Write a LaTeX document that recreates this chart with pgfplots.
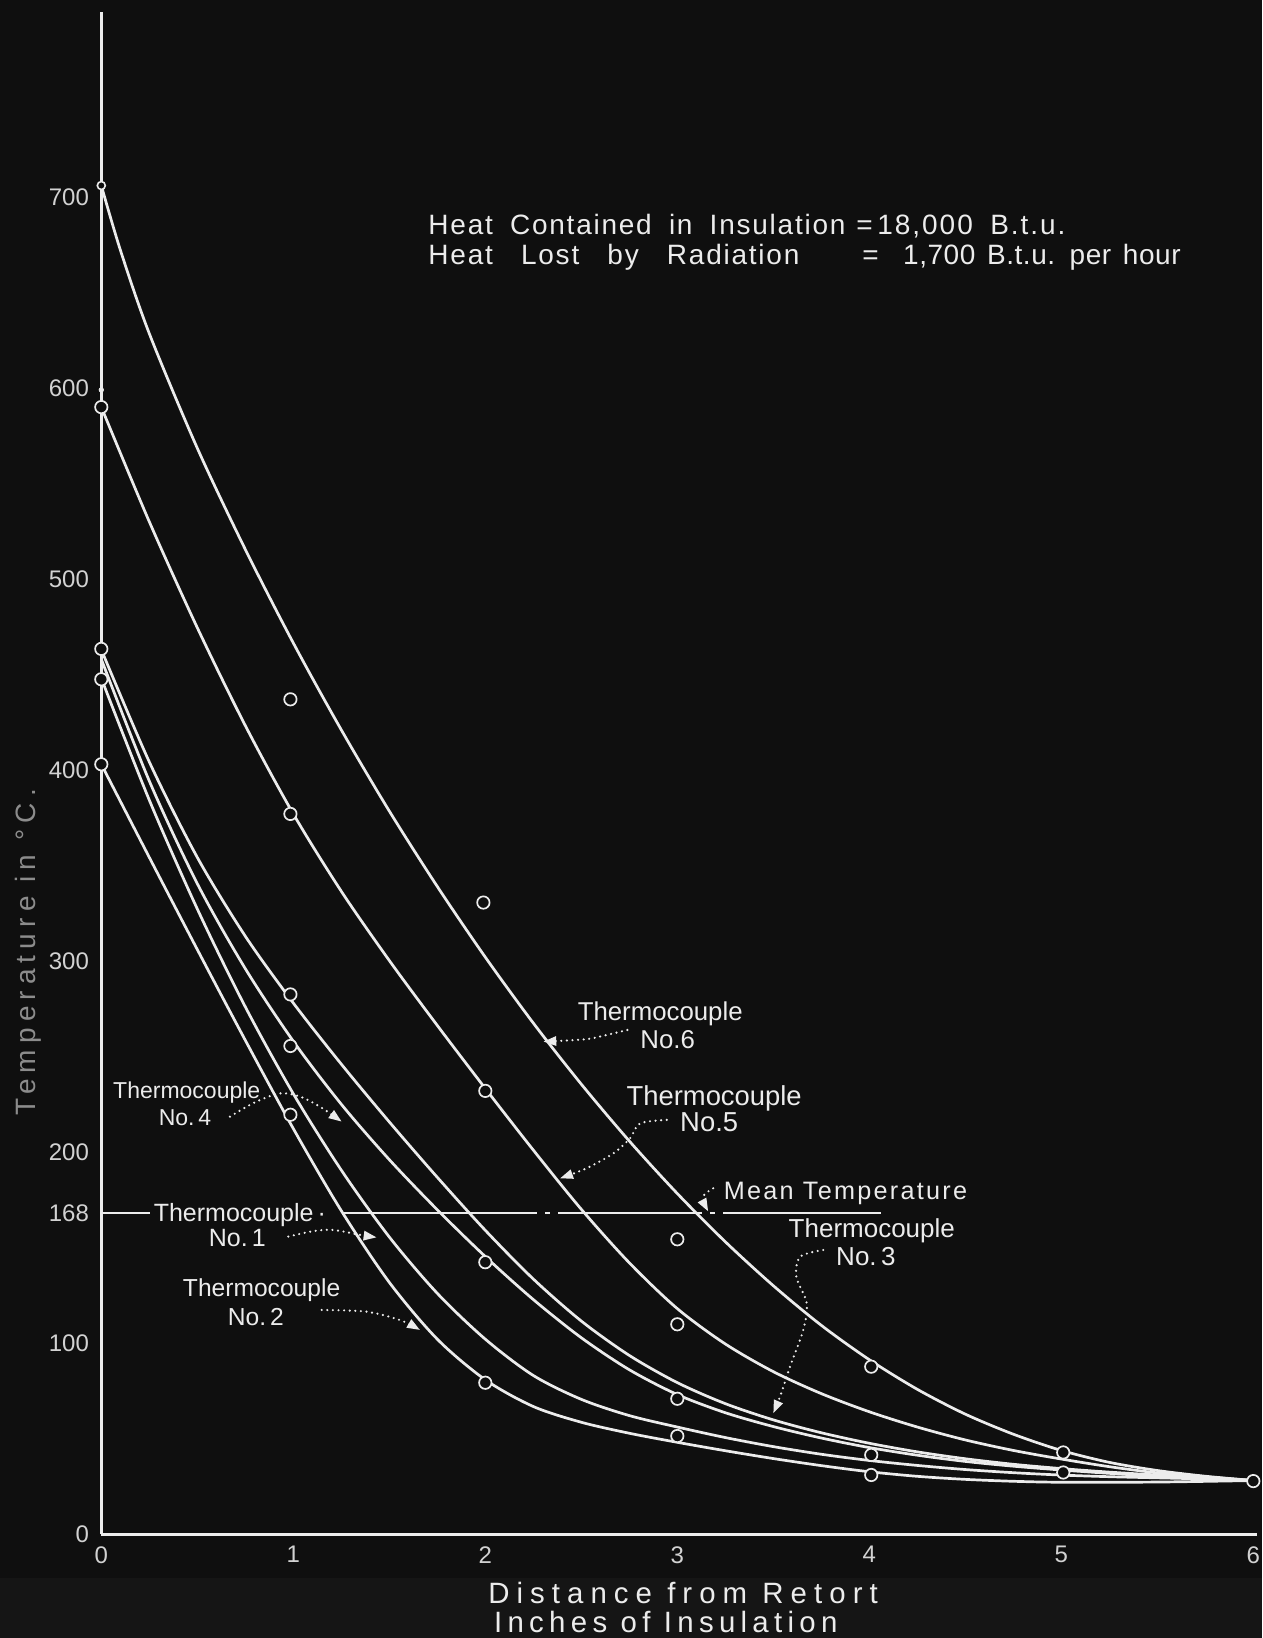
\documentclass[border=0pt]{standalone}
\usepackage{fontspec}
\setmainfont{Liberation Sans}
\usepackage{pgfplots}
\pgfplotsset{compat=1.18}
\usetikzlibrary{arrows.meta,backgrounds}
\definecolor{bg}{HTML}{0F0F0F}
\definecolor{strip}{HTML}{151515}
\definecolor{fg}{HTML}{ECECEC}
\definecolor{tick}{HTML}{D2D2D2}
\definecolor{ytitle}{HTML}{8C8C8C}
\newfontfamily\headfont[LetterSpace=6.3,WordSpace=1.8]{Liberation Sans}
\newfontfamily\numfont[LetterSpace=7,WordSpace=1.8]{Liberation Sans}
\newfontfamily\valfont[LetterSpace=2,WordSpace=1.4]{Liberation Sans}
\newfontfamily\xlabA[LetterSpace=24]{Liberation Sans}
\newfontfamily\xlabB[LetterSpace=18]{Liberation Sans}
\newfontfamily\ylab[LetterSpace=22]{Liberation Sans}
\newfontfamily\meanfont[LetterSpace=9]{Liberation Sans}

% Thermocouple No.6
\pgfplotstableread{
x y
0 706
0.1 672
0.25 628.5
0.5 568.5
0.75 515.5
1 466.5
1.25 421
1.5 378.5
1.75 339
2 302
2.25 267.5
2.5 235.5
2.75 205.75
3 178.25
3.25 153
3.5 130
3.75 109.25
4 91.25
4.25 75.75
4.5 62.75
4.75 52.25
5 43.75
5.25 37.5
5.5 33.25
5.75 30.25
6 28
}\tcsix
% Thermocouple No.5
\pgfplotstableread{
x y
0 590
0.25 530
0.5 474.5
0.75 423.25
1 377
1.25 336.5
1.5 300.25
1.75 266.25
2 233.25
2.25 201
2.5 170
2.75 142
3 118
3.25 99.5
3.5 85
3.75 73.5
4 64
4.25 56
4.5 49.25
4.75 43.75
5 39.25
5.25 35.25
5.5 32
5.75 29.9
6 28
}\tcfive
% Thermocouple No.3
\pgfplotstableread{
x y
0 463
0.25 404.25
0.5 354.25
0.75 313
1 278
1.25 246
1.5 215.75
1.75 186.75
2 159
2.25 133.5
2.5 111.5
2.75 93.5
3 79.25
3.25 68.25
3.5 59.75
3.75 53
4 47.5
4.25 43
4.5 39.4
4.75 36.5
5 34.25
5.25 32.4
5.5 30.9
5.75 29.5
6 28
}\tcthree
% Thermocouple No.4
\pgfplotstableread{
x y
0 458
0.25 394.25
0.5 340.5
0.75 296
1 258
1.25 225
1.5 196
1.75 169.75
2 145.25
2.25 122.75
2.5 102.75
2.75 86
3 73
3.25 63.5
3.5 56.25
3.75 50.25
4 45.25
4.25 41.25
4.5 38
4.75 35.5
5 33.5
5.25 31.75
5.5 30.2
5.75 29
6 28
}\tcfour
% Thermocouple No.1
\pgfplotstableread{
x y
0 448
0.25 384.25
0.5 327.25
0.75 276
1 230.5
1.25 190.5
1.5 155.5
1.75 126
2 102
2.25 83
2.5 70.5
2.75 62
3 56
3.25 50.5
3.5 45.75
3.75 41.75
4 38.5
4.25 35.9
4.5 33.75
4.75 32.1
5 30.85
5.25 30
5.5 29.4
5.75 28.8
6 28
}\tcone
% Thermocouple No.2
\pgfplotstableread{
x y
0 403
0.25 354.25
0.5 306
0.75 258.5
1 212.25
1.25 169.25
1.5 131.75
1.75 102
2 80.75
2.25 66.75
2.5 58.5
2.75 52.75
3 48
3.25 43.6
3.5 39.5
3.75 35.8
4 32.6
4.25 30.2
4.5 28.6
4.75 27.6
5 27.1
5.5 27.2
6 28
}\tctwo
% observed readings
\pgfplotstableread{
x y
0 590
0 463.4
0 447.5
0 403
0.985 437
0.985 377
0.985 282.5
0.985 255.5
0.985 219.5
1.99 330.6
2 232
2 142.3
2 79.2
3 154.3
3 109.8
3 70.8
3 51.3
4.01 87.6
4.01 41.4
4.01 30.9
5.01 42.7
5.01 32.2
6 27.7
}\readings

\tikzset{
  curve/.style={fg, line width=1.35pt, smooth},
  leader/.style={fg, line width=1.2pt, dash pattern=on 0pt off 2.8pt, line cap=round,
                 -{Triangle[length=6.5pt,width=4.6pt]}},
  lab/.style={anchor=base, inner sep=0pt, text=fg},
}

\begin{document}
\begin{tikzpicture}
\begin{axis}[
  x=96pt, y=0.955pt,
  xmin=0, xmax=6.02, ymin=0, ymax=796.6,
  axis x line=bottom, axis y line=left,
  axis line style={-, fg, line width=1.5pt},
  clip=false,
  xtick={0,1,2,3,4,5,6},
  ytick={0,100,168,200,300,400,500,600,700},
  major tick length=0pt,
  tick style={draw=none},
  ticklabel style={font=\fontsize{12}{12}\selectfont, text=tick},
  yticklabel style={anchor=east, inner sep=0pt, xshift=-6pt},
  xticklabel style={anchor=north, inner sep=0pt, yshift=-6pt},
  /pgf/number format/assume math mode=true,
  /pgf/number format/1000 sep={},
]
\coordinate (BL) at (axis cs:-0.5276,-54.45);
\coordinate (TR) at (axis cs:6.0453,803.14);
\coordinate (SR) at (axis cs:6.0453,-23.04);

% mean temperature line
\addplot[fg, line width=1.2pt] coordinates {(0,168) (0.254,168)};
\addplot[fg, line width=1.2pt, dash pattern=on 97pt off 4pt on 2.5pt off 4pt on 72pt off 4pt on 2.5pt off 4pt on 80pt]
  coordinates {(1.26,168) (4.06,168)};

% curves
\addplot[curve] table[x=x,y=y] {\tcsix};
\addplot[curve] table[x=x,y=y] {\tcfive};
\addplot[curve] table[x=x,y=y] {\tcthree};
\addplot[curve] table[x=x,y=y] {\tcfour};
\addplot[curve] table[x=x,y=y] {\tcone};
\addplot[curve] table[x=x,y=y] {\tctwo};

% readings
\addplot[only marks, mark=*, mark size=3.1pt, mark options={fill=bg, draw=fg, line width=0.85pt}]
  table[x=x,y=y] {\readings};
\addplot[only marks, mark=*, mark size=2pt, mark options={fill=bg, draw=fg, line width=0.8pt}]
  coordinates {(0,706)};
\addplot[only marks, mark=*, mark size=1.1pt, mark options={fill=fg, draw=fg}]
  coordinates {(0,599)};

% header
\node[lab, anchor=base west, font=\headfont\fontsize{14}{14}\selectfont] at (axis cs:1.702,680.1) {Heat Contained in Insulation};
\node[lab, anchor=base west, font=\headfont\fontsize{14}{14}\selectfont] at (axis cs:3.93,680.1) {=};
\node[lab, anchor=base west, font=\numfont\fontsize{14}{14}\selectfont] at (axis cs:4.04,680.1) {18,000 B.t.u.};
\node[lab, anchor=base west, font=\headfont\fontsize{14}{14}\selectfont] at (axis cs:1.702,664.4) {Heat\hspace{5.5pt} Lost\hspace{5.5pt} by\hspace{5.5pt} Radiation};
\node[lab, anchor=base west, font=\headfont\fontsize{14}{14}\selectfont] at (axis cs:3.962,664.4) {=};
\node[lab, anchor=base west, font=\valfont\fontsize{14}{14}\selectfont] at (axis cs:4.174,664.4) {1,700 B.t.u. per hour};

% curve labels
\node[lab, font=\fontsize{12.9}{13}\selectfont] at (axis cs:2.911,268.7) {Thermocouple};
\node[lab, font=\fontsize{12.9}{13}\selectfont] at (axis cs:2.95,254) {No.6};
\draw[leader] plot[smooth] coordinates {(2.74,263.9) (2.62,261) (2.52,259) (2.302,257.8)};

\node[lab, font=\fontsize{13.7}{14}\selectfont] at (axis cs:3.192,224.6) {Thermocouple};
\node[lab, font=\fontsize{13.7}{14}\selectfont] at (axis cs:3.166,210.6) {No.5};
\draw[leader] plot[smooth] coordinates {(2.945,216.8) (2.806,215) (2.754,207.2) (2.667,199.3) (2.528,191.5) (2.389,186.2)};

\node[lab, anchor=base west, font=\meanfont\fontsize{12.6}{13}\selectfont] at (axis cs:3.24,174.9) {Mean Temperature};
\draw[leader] plot[smooth] coordinates {(3.187,181) (3.140,177.5) (3.145,172.5) (3.161,168.9)};

\node[lab, font=\fontsize{13}{13}\selectfont] at (axis cs:4.013,155.3) {Thermocouple};
\node[lab, font=\fontsize{13}{13}\selectfont] at (axis cs:3.982,140.8) {No.\,3};
\draw[leader] plot[smooth] coordinates {(3.76,148.7) (3.64,145.2) (3.62,134.7) (3.674,120.8) (3.656,106.8) (3.587,87.6) (3.535,71.9) (3.50,63.2)};

\node[lab, font=\fontsize{11.5}{12}\selectfont] at (axis cs:0.445,228.1) {Thermocouple};
\node[lab, font=\fontsize{11.5}{12}\selectfont] at (axis cs:0.436,214.1) {No.\,4};
\draw[leader] plot[smooth] coordinates {(0.67,218.5) (0.80,226) (0.931,230.7) (1.035,229) (1.139,223.7) (1.252,215.9)};

\node[lab, font=\fontsize{12.5}{13}\selectfont] at (axis cs:0.722,163.5) {Thermocouple\,·};
\node[lab, font=\fontsize{12.5}{13}\selectfont] at (axis cs:0.709,150.4) {No.\,1};
\draw[leader] plot[smooth] coordinates {(0.974,155.7) (1.1,158.5) (1.208,159.2) (1.347,156.6) (1.434,155.3)};

\node[lab, font=\fontsize{12.3}{13}\selectfont] at (axis cs:0.835,124.2) {Thermocouple};
\node[lab, font=\fontsize{12.3}{13}\selectfont] at (axis cs:0.805,109.4) {No.\,2};
\draw[leader] plot[smooth] coordinates {(1.148,117.3) (1.382,116.4) (1.556,112) (1.66,106.8)};

% axis titles
\node[lab, text=ytitle, rotate=90, anchor=center, font=\ylab\fontsize{14}{14}\selectfont] at (axis cs:-0.38,304.7) {Temperature in °C.};
\node[lab, font=\xlabA\fontsize{14.7}{15}\selectfont] at (axis cs:3.03,-36.4) {Distance from Retort};
\node[lab, font=\xlabB\fontsize{14.7}{15}\selectfont] at (axis cs:2.94,-51.8) {Inches of Insulation};
\end{axis}
\begin{scope}[on background layer]
\fill[bg] (BL) rectangle (TR);
\fill[strip] (BL) rectangle (SR);
\end{scope}
\pgfresetboundingbox
\path[use as bounding box] (BL) rectangle (TR);
\end{tikzpicture}
\end{document}
